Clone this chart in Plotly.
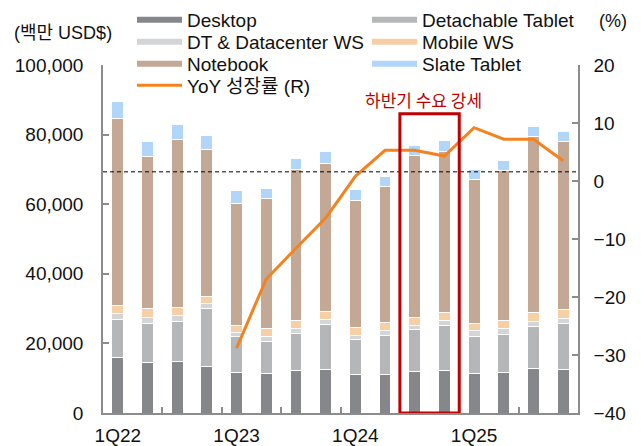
import plotly.graph_objects as go

quarters = ["1Q22", "2Q22", "3Q22", "4Q22", "1Q23", "2Q23", "3Q23", "4Q23",
            "1Q24", "2Q24", "3Q24", "4Q24", "1Q25", "2Q25", "3Q25", "4Q25"]

desktop = [15900, 14500, 14900, 13300, 11700, 11300, 12100, 12400,
           11200, 11200, 11900, 12100, 11400, 11700, 12800, 12600]
detachable = [11000, 11300, 11500, 16600, 10200, 9300, 10800, 13100,
              9800, 11200, 12000, 13100, 10700, 10900, 12000, 13000]
dt_dc_ws = [1700, 1700, 1700, 1500, 1300, 1400, 1500, 1500,
            1200, 1400, 1200, 1500, 1500, 1600, 1600, 1600]
mobile_ws = [2300, 2500, 2300, 2000, 2000, 2200, 2300, 2300,
             2400, 2300, 2300, 2200, 2200, 2300, 2400, 2400]
notebook = [53600, 43700, 48200, 42400, 35100, 37500, 43300, 42500,
            36400, 38900, 46500, 46200, 41400, 43100, 50600, 48400]
slate = [5000, 4200, 4200, 4000, 3500, 2900, 3000, 3300,
         3300, 2900, 2900, 3100, 2800, 3100, 2900, 3000]
yoy = [None, None, None, None, -28.8, -16.9, -11.6, -6.4,
       0.8, 5.3, 5.3, 4.3, 9.2, 7.2, 7.2, 3.5]

series_names = ["Desktop", "Detachable Tablet", "DT & Datacenter WS",
                "Mobile WS", "Notebook", "Slate Tablet"]
series_values = [desktop, detachable, dt_dc_ws, mobile_ws, notebook, slate]
series_colors = ["#85878a", "#b5b6b8", "#d4d5d7", "#f6cfa6", "#c3a995", "#b2d6fa"]
line_name = "YoY 성장률 (R)"
line_color = "#f4821f"

ref_level = 69300          # dashed reference line (left axis)
box_top = 86000            # highlight box top (left axis)
box_quarters = ["3Q24", "4Q24"]
box_label = "하반기 수요 강세"
left_unit = "(백만 USD$)"
right_unit = "(%)"

FONT = "Liberation Sans, Noto Sans CJK KR, sans-serif"
W, H = 641, 446
L, R, T, B = 103, 63, 65, 33
PW = W - L - R
PH = H - T - B

xs = list(range(len(quarters)))
fig = go.Figure()

legend_rows = ["legend", "legend2", "legend3"]
for i, (name, vals, col) in enumerate(zip(series_names, series_values, series_colors)):
    fig.add_trace(go.Bar(x=xs, y=vals, name=name, marker=dict(color=col, line=dict(color="white", width=1)),
                         showlegend=False, legendgroup=name,
                         hovertext=quarters))
    fig.add_trace(go.Scatter(x=[None], y=[None], mode="lines", name=name,
                             line=dict(color=col, width=6), legendgroup=name,
                             legend=legend_rows[i // 2]))

fig.add_trace(go.Scatter(x=xs, y=yoy, mode="lines", name=line_name, yaxis="y2",
                         line=dict(color=line_color, width=3), legend="legend4",
                         hovertext=quarters))

row_px = [20, 42, 64, 85.5]
legend_common = dict(orientation="h", xanchor="left", yanchor="middle",
                     x=(132 - L) / PW, bgcolor="rgba(0,0,0,0)",
                     font=dict(family=FONT, size=19, color="#111111"),
                     itemwidth=45, entrywidth=175, entrywidthmode="pixels",
                     itemclick=False, itemdoubleclick=False)
legs = {}
for key, ypx in zip(["legend", "legend2", "legend3", "legend4"], row_px):
    legs[key] = dict(legend_common, y=(H - B - ypx) / PH)

b0 = quarters.index(box_quarters[0]) - 0.5
b1 = quarters.index(box_quarters[-1]) + 0.5
boundaries = [i - 0.5 for i in range(2, len(quarters), 2)]

axis_color = "#8c8c8c"
fig.update_layout(
    width=W, height=H,
    margin=dict(l=L, r=R, t=T, b=B, autoexpand=False),
    paper_bgcolor="white", plot_bgcolor="white",
    barmode="stack", bargap=0.6,
    font=dict(family=FONT, size=19, color="#111111"),
    xaxis=dict(range=[-0.5, len(quarters) - 0.5], tickmode="array",
               tickvals=xs[::4], ticktext=quarters[::4], ticks="",
               showline=True, linecolor=axis_color, linewidth=1.5,
               showgrid=False, zeroline=False, ticklabelstandoff=4,
               minor=dict(tickmode="array", tickvals=boundaries, ticks="inside",
                          ticklen=6, tickcolor=axis_color, tickwidth=1.5, showgrid=False)),
    yaxis=dict(range=[0, 100000], dtick=20000, tickformat=",", ticks="inside",
               ticklen=6, tickcolor=axis_color, tickwidth=1.5,
               showline=True, linecolor=axis_color, linewidth=1.5,
               showgrid=False, zeroline=False, ticklabelstandoff=14),
    yaxis2=dict(range=[-40, 20], dtick=10, overlaying="y", side="right", ticks="inside",
                ticklen=6, tickcolor=axis_color, tickwidth=1.5,
                showline=True, linecolor=axis_color, linewidth=1.5,
                showgrid=False, zeroline=False, ticklabelstandoff=10),
    shapes=[
        dict(type="line", xref="paper", x0=0, x1=1, yref="y", y0=ref_level, y1=ref_level,
             line=dict(color="black", width=1, dash="4px,3px"), layer="above"),
        dict(type="rect", xref="x", x0=b0, x1=b1, yref="y", y0=0, y1=box_top,
             line=dict(color="#c00000", width=3), fillcolor="rgba(0,0,0,0)", layer="above"),
    ],
    annotations=[
        dict(text=box_label, xref="x", x=(b0 + b1) / 2, yref="y", y=box_top,
             yanchor="bottom", xanchor="center", showarrow=False, xshift=-6, yshift=0,
             font=dict(family="Noto Sans CJK KR, sans-serif", size=17, color="#c00000")),
        dict(text=left_unit, xref="paper", yref="paper", x=(63 - L) / PW,
             y=(H - B - 33) / PH, xanchor="center", yanchor="middle", showarrow=False,
             font=dict(size=18)),
        dict(text=right_unit, xref="paper", yref="paper", x=(613 - L) / PW,
             y=(H - B - 21) / PH, xanchor="center", yanchor="middle", showarrow=False,
             font=dict(size=18)),
    ],
    **legs,
)

fig.write_html("out.html", config={"displayModeBar": False},
               post_script="document.body.style.margin='0';document.body.style.overflow='hidden';")
